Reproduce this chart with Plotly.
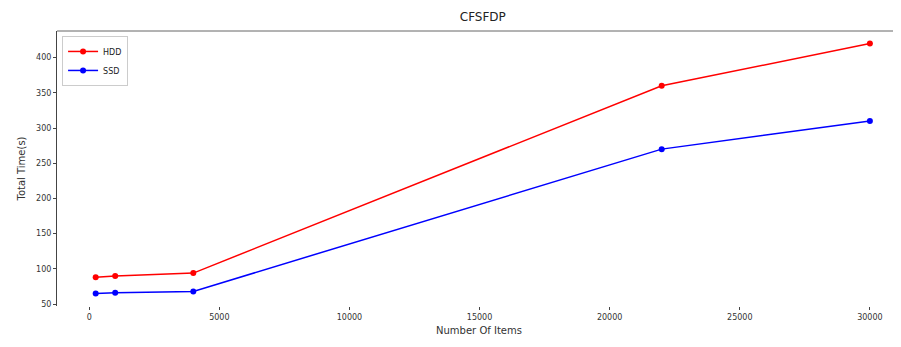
import plotly.graph_objects as go

items = [250, 1000, 4000, 22000, 30000]
hdd = [88, 90, 94, 360, 420]
ssd = [65, 66, 68, 270, 310]
x_ticks = [0, 5000, 10000, 15000, 20000, 25000, 30000]
y_ticks = [50, 100, 150, 200, 250, 300, 350, 400]

fig = go.Figure()
fig.add_trace(go.Scatter(x=items, y=hdd, mode="lines+markers", name="HDD",
                         line=dict(color="red", width=1.5),
                         marker=dict(color="red", size=6)))
fig.add_trace(go.Scatter(x=items, y=ssd, mode="lines+markers", name="SSD",
                         line=dict(color="blue", width=1.5),
                         marker=dict(color="blue", size=6)))

font = "DejaVu Sans"
fig.update_layout(
    width=901, height=347,
    margin=dict(l=49, r=8, t=23, b=49, autoexpand=False),
    paper_bgcolor="white", plot_bgcolor="white",
    title=dict(text="CFSFDP", x=0.527, xanchor="center", y=0.974, yanchor="middle",
               font=dict(family=font, size=12, color="#222")),
    font=dict(family=font, color="#222"),
    showlegend=True,
    legend=dict(x=0.006, y=0.982, xanchor="left", yanchor="top",
                bgcolor="rgba(255,255,255,0.8)", bordercolor="#ccc", borderwidth=1,
                font=dict(size=8, family=font), itemwidth=30, tracegroupgap=0),
    xaxis=dict(range=[-1237, 31195], tickvals=x_ticks,
               ticktext=[str(v) for v in x_ticks], automargin=False,
               showgrid=False, zeroline=False, showline=False,
               ticks="outside", ticklen=3, tickcolor="#444",
               tickfont=dict(size=8, color="#333"),
               title=dict(text="Number Of Items", font=dict(size=10, color="#333"), standoff=6)),
    yaxis=dict(range=[47.25, 437.75], tickvals=y_ticks, automargin=False,
               showgrid=False, zeroline=False, showline=True, linecolor="#444", linewidth=1,
               ticks="outside", ticklen=3, tickcolor="#444",
               tickfont=dict(size=8, color="#333"),
               title=dict(text="Total Time(s)", font=dict(size=10, color="#333"), standoff=8)),
    shapes=[dict(type="line", xref="paper", yref="paper", x0=0, x1=1, y0=1, y1=1,
                 line=dict(color="#666", width=1))],
)

fig.write_html("out.html")
